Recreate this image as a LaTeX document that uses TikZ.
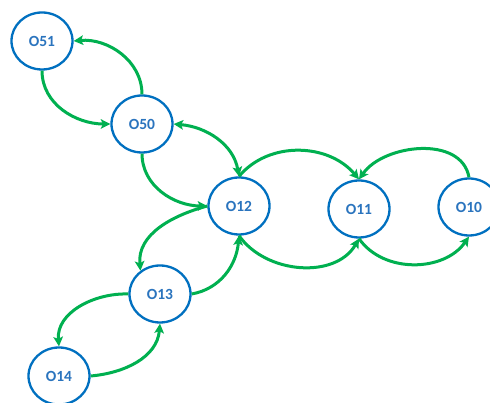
\documentclass[tikz,border=0pt]{standalone}
\usepackage{fontspec}
\usetikzlibrary{shapes.geometric,arrows.meta}
\newfontfamily\lblfont{Carlito}
\definecolor{nodeblue}{HTML}{0070C0}
\definecolor{textblue}{HTML}{2A74BE}
\definecolor{arrgreen}{HTML}{00B050}
\begin{document}
\begin{tikzpicture}[x=1pt,y=1pt,
  state/.style={ellipse,draw=nodeblue,line width=2.3pt,fill=white,
    minimum width=61pt,minimum height=57pt,inner sep=0pt,
    font=\lblfont\bfseries\fontsize{15.5}{18}\selectfont,text=textblue},
  arr/.style={draw=arrgreen,line width=3pt,
    -{Stealth[length=9.5pt,width=9.5pt,inset=2pt]}},
  arrboth/.style={draw=arrgreen,line width=3pt,
    {Stealth[length=9.5pt,width=9.5pt,inset=2pt]}-{Stealth[length=9.5pt,width=9.5pt,inset=2pt]}}
]
\clip (0,0) rectangle (490,403);
\fill[white] (0,0) rectangle (490,403);
\node[state] (o51) at (42,362) {O51};
\node[state] (o50) at (142,279) {O50};
\node[state] (o12) at (239,197) {O12};
\node[state] (o11) at (359,194) {O11};
\node[state] (o10) at (469,196) {O10};
\node[state] (o13) at (160,109) {O13};
\node[state] (o14) at (59,27) {O14};

\draw[arr] (o50.north) to[out=90,in=5] (o51.east);
\draw[arr] (o51.south) to[out=-90,in=180] (o50.west);
\draw[arrboth] (o50.east) to[out=-5,in=100] (o12.north);
\draw[arr] (o50.south) to[out=-90,in=180] (o12.west);
\draw[arr] (o12.north) to[out=50,in=130] (o11.north);
\draw[arr] (o10.north) to[out=100,in=55] (o11.north);
\draw[arr] (o12.south) to[out=-55,in=-120] (o11.south);
\draw[arr] (o11.south) to[out=-55,in=-125] (o10.south);
\draw[arr] (o12.west) to[out=195,in=95] (o13.130);
\draw[arr] (o13.east) to[out=10,in=-95] (o12.south);
\draw[arr] (o13.west) to[out=178,in=95] (o14.north);
\draw[arr] (o14.east) to[out=5,in=-95] (o13.south);
\end{tikzpicture}
\end{document}
